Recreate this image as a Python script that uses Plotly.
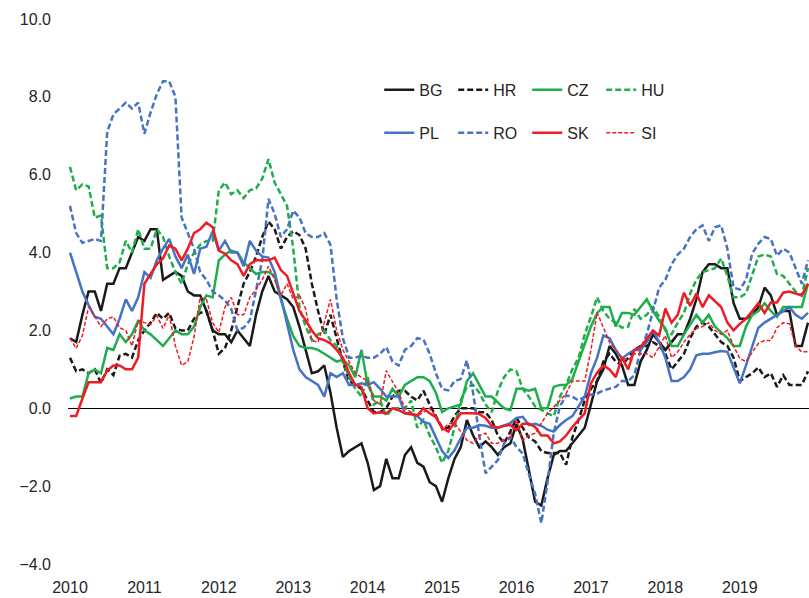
import plotly.graph_objects as go

# Monthly index: 0 = Jan 2010 ... 119 = Dec 2019
month_index = list(range(120))
year_labels = [str(y) for y in range(2010, 2020)]
year_ticks = [12 * i for i in range(len(year_labels))]

# Annual HICP inflation, %, monthly (one row per year)
bg = [1.8, 1.7, 2.4, 3.0, 3.0, 2.5, 3.2, 3.2, 3.6, 3.6, 4.0, 4.4,
      4.3, 4.6, 4.6, 3.3, 3.4, 3.5, 3.4, 3.0, 2.9, 2.9, 2.5, 2.0,
      1.9, 1.9, 1.7, 2.0, 1.8, 1.6, 2.4, 3.0, 3.4, 3.0, 2.9, 2.8,
      2.6, 2.1, 1.5, 0.9, 0.95, 1.1, 0.4, -0.5, -1.25, -1.1, -1.0, -0.9,
      -1.4, -2.1, -2.0, -1.3, -1.8, -1.8, -1.2, -1.0, -1.4, -1.5, -1.9, -2.0,
      -2.4, -1.8, -1.3, -1.0, -0.3, -0.7, -1.0, -0.85, -1.0, -1.2, -1.0, -0.9,
      -0.4, -0.8, -1.6, -2.4, -2.5, -1.8, -1.2, -1.1, -1.1, -0.9, -0.7, -0.5,
      0.1, 0.7, 1.0, 1.6, 1.4, 1.1, 0.6, 0.6, 1.2, 1.5, 1.9, 1.7,
      1.5, 1.7, 1.9, 1.9, 2.3, 2.8, 3.5, 3.7, 3.7, 3.6, 3.6, 2.7,
      2.3, 2.3, 2.4, 2.6, 3.1, 2.9, 2.4, 2.5, 2.5, 1.6, 1.6, 2.2]

hr = [1.3, 0.95, 1.0, 0.9, 1.0, 0.65, 1.0, 0.85, 1.35, 1.4, 1.3, 1.75,
      2.0, 2.2, 2.45, 2.3, 2.45, 2.05, 2.0, 2.0, 2.3, 2.45, 2.5, 2.0,
      1.4, 1.55, 2.0, 2.6, 3.2, 3.5, 3.9, 4.4, 4.8, 4.6, 4.1, 4.4,
      4.55, 4.45, 4.1, 3.2, 2.5, 1.9, 2.4, 1.8, 1.2, 0.7, 0.6, 0.5,
      0.2, -0.1, -0.1, 0.0, 0.3, 0.45, 0.45, 0.3, 0.2, 0.45, 0.1, -0.2,
      -0.5, -0.5, -0.2, 0.0, 0.0, 0.0, -0.1, -0.1, -0.3, -0.7, -0.9, -0.6,
      -0.25, -0.5, -0.75, -0.85, -1.1, -1.15, -1.15, -1.15, -1.45, -0.75, -0.3, 0.2,
      0.5, 0.7, 1.2, 1.4, 1.2, 1.1, 1.3, 1.5, 1.6, 1.6, 1.7, 1.6,
      1.4, 1.0, 1.2, 1.4, 1.8, 2.1, 2.2, 2.1, 1.9, 1.7, 1.6, 1.3,
      0.7, 0.8, 0.9, 1.05, 0.8, 0.9, 0.55, 0.85, 0.6, 0.6, 0.6, 0.95]

cz = [0.25, 0.3, 0.3, 0.9, 1.0, 0.9, 1.55, 1.5, 1.9, 1.7, 1.9, 2.25,
      2.0, 1.9, 1.75, 1.6, 1.8, 2.0, 1.9, 1.9, 2.1, 2.6, 2.9, 2.85,
      3.8, 3.95, 4.05, 4.0, 3.75, 3.6, 3.45, 3.5, 3.5, 3.4, 2.8, 2.3,
      1.85, 1.6, 1.55, 1.55, 1.5, 1.4, 1.3, 1.2, 1.25, 1.1, 0.8, 1.5,
      0.6, 0.3, 0.3, 0.2, 0.5, 0.3, 0.6, 0.7, 0.8, 0.8, 0.7, 0.4,
      -0.1, 0.0, 0.05, 0.1, 0.7, 0.9, 0.6, 0.3, 0.3, 0.15, 0.0, -0.05,
      0.5, 0.5, 0.45, 0.5, 0.0, 0.0, 0.55, 0.6, 0.6, 0.75, 1.2, 1.6,
      2.1, 2.45, 2.6, 2.6, 2.1, 2.45, 2.45, 2.4, 2.6, 2.8, 2.5, 2.25,
      2.05, 1.6, 1.6, 1.9, 2.15, 2.4, 2.2, 2.4, 2.1, 1.95, 1.8, 1.6,
      1.6, 2.1, 2.4, 2.5, 2.7, 2.5, 2.35, 2.6, 2.6, 2.6, 2.6, 3.2]

hu = [6.2, 5.6, 5.75, 5.7, 4.9, 4.95, 3.6, 3.6, 3.75, 4.3, 4.0, 4.6,
      4.1, 4.1, 4.6, 4.4, 3.9, 3.5, 3.2, 3.7, 4.0, 4.2, 4.3, 4.3,
      5.6, 5.8, 5.5, 5.6, 5.4, 5.6, 5.65, 5.9, 6.4, 5.8, 5.5, 5.2,
      4.1, 2.6, 2.1, 1.75, 1.9, 2.0, 1.75, 1.6, 1.2, 0.8, 0.5, 0.3,
      0.8, 0.1, 0.2, -0.2, 0.0, 0.0, 0.0, 0.2, -0.5, -0.3, -0.7, -1.0,
      -1.4, -1.1, -0.5, 0.2, 0.55, 0.6, 0.4, 0.1, -0.1, 0.45, 0.8, 1.0,
      0.95, 0.5, 0.3, 0.05, -0.05, -0.13, -0.2, 0.3, 0.6, 1.0, 1.3, 1.9,
      2.35, 2.85, 2.5, 2.3, 2.2, 2.07, 2.1, 2.55, 2.3, 2.4, 2.6, 2.35,
      2.0, 1.9, 2.2, 2.45, 2.95, 3.3, 3.5, 3.55, 3.6, 3.85, 3.4, 2.85,
      2.85, 2.95, 3.4, 3.9, 3.95, 3.9, 3.45, 3.4, 3.2, 3.0, 2.9, 3.6]

pl = [4.0, 3.5, 3.0, 2.65, 2.35, 2.3, 2.1, 1.9, 2.3, 2.8, 2.5, 2.85,
      3.5, 3.35, 3.8, 4.1, 4.35, 3.9, 3.6, 3.95, 3.45, 4.1, 4.15, 4.55,
      4.05, 4.3, 4.0, 4.0, 3.65, 4.3, 4.05, 3.9, 3.87, 3.5, 2.85, 2.2,
      1.5, 1.0, 0.8, 0.7, 0.6, 0.3, 0.9, 0.8, 0.9, 0.6, 0.6, 0.64,
      0.6, 0.67, 0.5, 0.3, 0.3, 0.3, -0.13, -0.13, -0.2, -0.35, -0.4, -0.77,
      -1.1, -1.28, -1.08, -0.77, -0.5, -0.5, -0.43, -0.45, -0.5, -0.5, -0.45, -0.38,
      -0.25, -0.22, -0.43, -0.4, -0.45, -0.55, -0.6, -0.43, -0.3, -0.2, 0.05, 0.3,
      0.9, 1.3, 1.87, 1.8, 1.5, 1.28, 1.4, 1.5, 1.5, 1.7, 2.0, 1.7,
      1.3, 0.7, 0.7, 0.8, 1.0, 1.36, 1.4, 1.4, 1.44, 1.47, 1.45, 1.05,
      0.64, 1.1, 1.57, 2.07, 2.2, 2.3, 2.4, 2.5, 2.6, 2.4, 2.3, 2.45]

ro = [5.2, 4.5, 4.25, 4.3, 4.35, 4.3, 7.1, 7.55, 7.7, 7.85, 7.7, 7.85,
      7.05, 7.6, 8.07, 8.4, 8.4, 8.0, 4.9, 4.5, 4.1, 3.5, 3.3, 3.0,
      2.9, 2.77, 2.55, 2.0, 2.07, 2.26, 3.0, 3.8, 5.38, 5.0, 4.4, 4.6,
      5.08, 4.9, 4.5, 4.4, 4.4, 4.5, 4.2, 2.8, 1.8, 1.3, 1.3, 1.35,
      1.3, 1.3, 1.4, 1.57, 1.2, 1.1, 1.5, 1.6, 1.8, 1.77, 1.4, 0.9,
      0.5, 0.46, 0.7, 0.75, 1.23, 0.4, -0.7, -1.67, -1.5, -1.33, -0.9, -0.74,
      -1.0, -1.16, -1.7, -2.2, -2.95, -1.9, -0.64, 0.05, 0.33, 0.3, 0.2, 0.3,
      0.35, 0.38, 0.46, 0.5, 0.55, 0.7, 0.7, 0.85, 1.5, 1.9, 2.5, 3.1,
      3.3, 3.7, 3.95, 4.1, 4.4, 4.6, 4.7, 4.3, 4.65, 4.7, 4.1, 3.1,
      3.05, 3.3, 3.97, 4.23, 4.4, 4.35, 3.92, 4.1, 4.0, 3.6, 3.2, 3.8]

sk = [-0.2, -0.2, 0.25, 0.67, 0.67, 0.67, 0.97, 1.1, 1.1, 1.0, 1.0, 1.3,
      3.2, 3.46, 3.7, 3.85, 4.18, 4.1, 3.8, 4.1, 4.5, 4.6, 4.77, 4.65,
      4.05, 3.97, 3.8, 3.7, 3.4, 3.7, 3.8, 3.8, 3.8, 3.87, 3.55, 3.4,
      2.95, 2.5, 2.26, 2.0, 1.8, 1.75, 1.67, 1.5, 1.3, 0.9, 0.6, 0.55,
      0.0, -0.13, -0.1, -0.13, 0.0, -0.05, -0.13, -0.15, -0.18, 0.0, -0.13, -0.23,
      -0.5, -0.6, -0.35, -0.13, -0.13, -0.13, -0.15, -0.25, -0.45, -0.5, -0.45, -0.43,
      -0.56, -0.4, -0.4, -0.48, -0.7, -0.7, -0.9, -0.85, -0.7, -0.48, -0.3, -0.13,
      0.64, 0.92, 1.1, 1.0, 0.8, 1.3, 1.0, 1.5, 1.57, 1.8, 2.0, 1.87,
      2.56, 2.2, 2.4, 2.97, 2.63, 2.95, 2.6, 2.9, 2.75, 2.6, 2.2, 2.0,
      2.17, 2.3, 2.5, 2.7, 2.45, 2.72, 2.72, 2.97, 3.0, 2.95, 2.9, 3.2]

si = [1.8, 1.54, 1.87, 2.6, 2.36, 2.1, 2.3, 2.35, 2.07, 2.0, 1.6, 2.26,
      2.2, 2.15, 2.38, 2.05, 2.4, 1.6, 1.1, 1.2, 1.83, 2.85, 2.8, 2.2,
      1.95, 2.6, 2.85, 2.4, 2.4, 2.85, 3.05, 3.3, 3.65, 3.3, 2.9, 3.2,
      2.8, 2.9, 2.55, 1.74, 1.7, 2.2, 2.8, 2.0, 1.5, 1.2, 0.9, 0.8,
      0.7, 0.2, 0.1, 0.97, 0.7, 0.4, 0.0, -0.1, -0.2, -0.1, 0.0, -0.2,
      -0.56, -0.4, -0.38, -0.6, -0.82, -0.9, -0.7, -0.64, -0.9, -0.9, -0.8, -0.74,
      -0.3, -0.82, -0.7, -0.64, -0.38, -0.13, 0.03, 0.2, 0.38, 0.7, 0.7, 0.7,
      1.5, 2.46, 2.07, 1.7, 1.5, 1.3, 1.23, 1.4, 1.4, 1.4, 1.3, 1.6,
      1.87, 1.3, 1.45, 1.7, 1.9, 2.05, 2.1, 2.2, 2.0, 1.9, 2.0, 1.6,
      1.28, 1.2, 1.45, 1.67, 1.74, 1.74, 2.07, 2.2, 2.17, 1.6, 1.45, 1.45]

BLACK = "#1a1a1a"
GREEN = "#1fae4b"
BLUE = "#4673c3"
RED = "#ee1c25"

series = [
    ("BG", bg, BLACK, "solid", 2.5, "legend"),
    ("HR", hr, BLACK, "6px,3px", 2.5, "legend"),
    ("CZ", cz, GREEN, "solid", 2.5, "legend"),
    ("HU", hu, GREEN, "6px,3px", 2.5, "legend"),
    ("PL", pl, BLUE, "solid", 2.5, "legend2"),
    ("RO", ro, BLUE, "6px,3px", 2.5, "legend2"),
    ("SK", sk, RED, "solid", 2.5, "legend2"),
    ("SI", si, RED, "4px,2px", 1.5, "legend2"),
]

fig = go.Figure()
for name, values, color, dash, width, leg in series:
    fig.add_trace(go.Scatter(
        x=month_index, y=values, mode="lines", name=name,
        line=dict(color=color, width=width, dash=dash),
        legend=leg,
    ))

text_color = "#262626"
legend_style = dict(
    orientation="h", xanchor="left", yanchor="middle",
    font=dict(family="Liberation Sans, Arial, sans-serif", size=16, color=text_color),
    bgcolor="rgba(0,0,0,0)", borderwidth=0,
    entrywidth=29, entrywidthmode="pixels", itemwidth=30,
    traceorder="normal",
)

fig.update_layout(
    width=809, height=598,
    margin=dict(l=68, r=0, t=19, b=34),
    paper_bgcolor="white", plot_bgcolor="white",
    font=dict(family="Liberation Sans, Arial, sans-serif", size=16, color=text_color),
    showlegend=True,
    legend=dict(x=0.42, y=0.87, **legend_style),
    legend2=dict(x=0.42, y=0.791, **legend_style),
)

fig.update_xaxes(
    range=[-0.32, 119.16],
    tickmode="array", tickvals=year_ticks, ticktext=year_labels,
    showgrid=False, zeroline=False, showline=False, ticks="",
    ticklabelstandoff=12,
    tickfont=dict(size=16, color=text_color),
)
fig.update_yaxes(
    range=[-4, 10],
    tickmode="array", tickvals=list(range(-4, 11, 2)), tickformat=".1f",
    showgrid=False, zeroline=True, zerolinecolor="black", zerolinewidth=1,
    showline=False, ticks="",
    ticklabelstandoff=16,
    tickfont=dict(size=16, color=text_color),
)

fig.write_html("out.html")
